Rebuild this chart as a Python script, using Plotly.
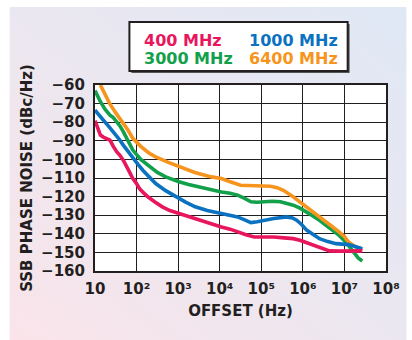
import base64
import plotly.graph_objects as go

# ---------------- data ----------------
series_names = ["400 MHz", "1000 MHz", "3000 MHz", "6400 MHz"]
series_colors = ["#e8175d", "#0a72c0", "#13a04b", "#f7941d"]

# log10(offset Hz) and phase noise (dBc/Hz)
logf_400 = [1.0, 1.06, 1.13, 1.2, 1.28, 1.36, 1.44, 1.52, 1.6, 1.68, 1.8, 1.91, 2.0, 2.07, 2.17, 2.27, 2.45, 2.62, 2.8, 3.02, 3.25, 3.49, 3.75, 4.04, 4.25, 4.43, 4.63, 4.83, 5.05, 5.3, 5.55, 5.77, 5.93, 6.09, 6.25, 6.4, 6.52, 6.64, 6.9, 7.2, 7.43]
pn_400 = [-79.2, -82.5, -86.9, -88.0, -88.6, -89.6, -93.0, -95.9, -97.8, -100.4, -105.5, -110.3, -113.0, -115.7, -118.0, -120.1, -123.0, -125.5, -127.5, -129.1, -131.0, -132.7, -134.3, -136.3, -137.5, -139.0, -140.5, -141.7, -141.5, -141.7, -142.2, -142.6, -143.5, -144.9, -146.0, -147.1, -148.3, -149.2, -149.3, -149.2, -149.2]

logf_1000 = [1.0, 1.1, 1.2, 1.32, 1.44, 1.56, 1.68, 1.8, 1.91, 2.03, 2.15, 2.3, 2.46, 2.7, 2.94, 3.18, 3.41, 3.7, 4.04, 4.25, 4.43, 4.6, 4.75, 4.9, 5.06, 5.3, 5.61, 5.75, 5.85, 5.97, 6.09, 6.25, 6.4, 6.6, 6.8, 7.1, 7.43]
pn_1000 = [-73.5, -76.5, -78.9, -82.0, -85.1, -88.5, -92.3, -96.0, -99.5, -102.5, -105.8, -109.5, -113.0, -116.8, -120.1, -123.0, -125.5, -127.5, -129.1, -130.0, -130.9, -132.5, -134.0, -133.5, -132.7, -131.8, -130.9, -131.5, -132.7, -135.0, -138.0, -140.5, -142.6, -144.2, -145.3, -145.8, -148.0]

logf_3000 = [1.0, 1.06, 1.13, 1.24, 1.36, 1.44, 1.52, 1.6, 1.68, 1.8, 1.91, 2.1, 2.31, 2.5, 2.7, 2.86, 3.02, 3.25, 3.49, 3.75, 4.04, 4.25, 4.43, 4.6, 4.75, 4.9, 5.06, 5.26, 5.46, 5.62, 5.77, 5.93, 6.09, 6.25, 6.4, 6.56, 6.72, 6.88, 7.03, 7.13, 7.23, 7.33, 7.43]
pn_3000 = [-63.0, -66.0, -69.0, -73.0, -76.2, -77.5, -79.7, -82.0, -85.1, -90.0, -95.0, -100.0, -104.0, -107.0, -109.4, -110.8, -112.0, -113.5, -114.8, -116.0, -117.5, -118.2, -119.2, -121.0, -122.8, -123.0, -122.8, -122.5, -122.8, -123.5, -124.6, -126.2, -128.2, -130.5, -132.7, -135.5, -138.0, -141.0, -144.4, -147.5, -150.7, -153.0, -154.6]

logf_6400 = [1.13, 1.24, 1.35, 1.5, 1.68, 1.8, 1.91, 2.1, 2.31, 2.46, 2.75, 3.02, 3.4, 3.8, 4.04, 4.25, 4.5, 4.85, 5.22, 5.38, 5.53, 5.73, 5.93, 6.16, 6.4, 6.64, 6.87, 7.0, 7.1, 7.25, 7.43]
pn_6400 = [-60.0, -65.0, -69.9, -75.0, -80.6, -84.5, -88.7, -93.0, -96.8, -98.6, -101.5, -104.0, -107.0, -109.4, -110.3, -112.0, -113.9, -114.2, -114.4, -115.2, -116.6, -119.5, -122.8, -126.8, -130.9, -135.0, -139.0, -141.5, -144.4, -146.8, -148.9]

series_logf = [logf_400, logf_1000, logf_3000, logf_6400]
series_pn = [pn_400, pn_1000, pn_3000, pn_6400]

x_tickvals = [10, 1e2, 1e3, 1e4, 1e5, 1e6, 1e7, 1e8]
x_ticktext = ["10", "10²", "10³", "10⁴", "10⁵", "10⁶", "10⁷", "10⁸"]
y_tickvals = list(range(-160, -50, 10))

# ---------------- layout geometry ----------------
W, H = 412, 340
L, R, T, B = 95, 21, 85, 69
PW, PH = W - L - R, H - T - B


def px_x(p):
    return (p - L) / PW


def px_y(p):
    return (H - B - p) / PH


FONT = "'DejaVu Sans', sans-serif"
INK = "#231f20"
WEIGHT = "bold"

fig = go.Figure()
draw_order = [2, 3, 1, 0]
for i in draw_order:
    fig.add_trace(go.Scatter(
        x=[10 ** v for v in series_logf[i]], y=series_pn[i], mode="lines",
        name=series_names[i], line=dict(color=series_colors[i], width=3.6),
        showlegend=False, hoverinfo="skip"))

# gradient background panel
svg = ("<svg xmlns='http://www.w3.org/2000/svg' width='404' height='333' preserveAspectRatio='none'>"
       "<defs><linearGradient id='g' x1='0' y1='1' x2='1' y2='0'>"
       "<stop offset='0' stop-color='#fae4ea'/><stop offset='0.5' stop-color='#ebe7f0'/>"
       "<stop offset='1' stop-color='#dfe8f5'/></linearGradient></defs>"
       "<rect width='404' height='333' fill='url(#g)'/></svg>")
uri = "data:image/svg+xml;base64," + base64.b64encode(svg.encode()).decode()
fig.add_layout_image(dict(source=uri, xref="paper", yref="paper",
                          x=px_x(8), y=px_y(7), sizex=px_x(412) - px_x(8),
                          sizey=px_y(7) - px_y(340), xanchor="left", yanchor="top",
                          sizing="stretch", layer="below"))

shapes = [
    # white plotting area
    dict(type="rect", xref="paper", yref="paper", x0=0, x1=1, y0=0, y1=1,
         fillcolor="white", line=dict(width=0), layer="below"),
    # legend shadow
    dict(type="rect", xref="paper", yref="paper", x0=px_x(132), x1=px_x(354),
         y0=px_y(73), y1=px_y(24), fillcolor="#555", line=dict(width=0)),
    # legend box
    dict(type="rect", xref="paper", yref="paper", x0=px_x(130), x1=px_x(352),
         y0=px_y(71), y1=px_y(22), fillcolor="white", line=dict(color=INK, width=2)),
]
fig.update_layout(shapes=shapes)

legend_pos = [(143, 40), (250, 40), (143, 59), (250, 59)]
for i, (lx, ly) in enumerate(legend_pos):
    fig.add_annotation(xref="paper", yref="paper", x=px_x(lx), y=px_y(ly),
                       xanchor="left", yanchor="middle", showarrow=False,
                       text=series_names[i],
                       font=dict(family=FONT, size=16, color=series_colors[i], weight=WEIGHT))

fig.update_layout(
    width=W, height=H, margin=dict(l=L, r=R, t=T, b=B),
    paper_bgcolor="white", plot_bgcolor="rgba(0,0,0,0)",
    font=dict(family=FONT, color=INK),
    xaxis=dict(type="log", range=[1, 8], tickvals=x_tickvals, ticktext=x_ticktext,
               showgrid=True, gridcolor=INK, gridwidth=1, showline=True, linecolor=INK,
               linewidth=2, mirror=True, ticks="outside", ticklen=3,
               tickcolor="rgba(0,0,0,0)", zeroline=False,
               tickfont=dict(family=FONT, size=15, color=INK, weight=WEIGHT),
               title=dict(text="OFFSET (Hz)", standoff=8,
                          font=dict(family=FONT, size=15, color=INK, weight=WEIGHT))),
    yaxis=dict(range=[-160, -60], tickvals=y_tickvals, showgrid=True, gridcolor=INK,
               gridwidth=1, showline=True, linecolor=INK, linewidth=2, mirror=True,
               ticks="outside", ticklen=5, tickcolor="rgba(0,0,0,0)", zeroline=False,
               tickfont=dict(family=FONT, size=15, color=INK, weight=WEIGHT),
               title=dict(text="SSB PHASE NOISE (dBc/Hz)", standoff=5,
                          font=dict(family=FONT, size=15, color=INK, weight=WEIGHT))),
)

fig.write_html("out.html", config={"displayModeBar": False},
               post_script="document.body.style.margin='0px';")
